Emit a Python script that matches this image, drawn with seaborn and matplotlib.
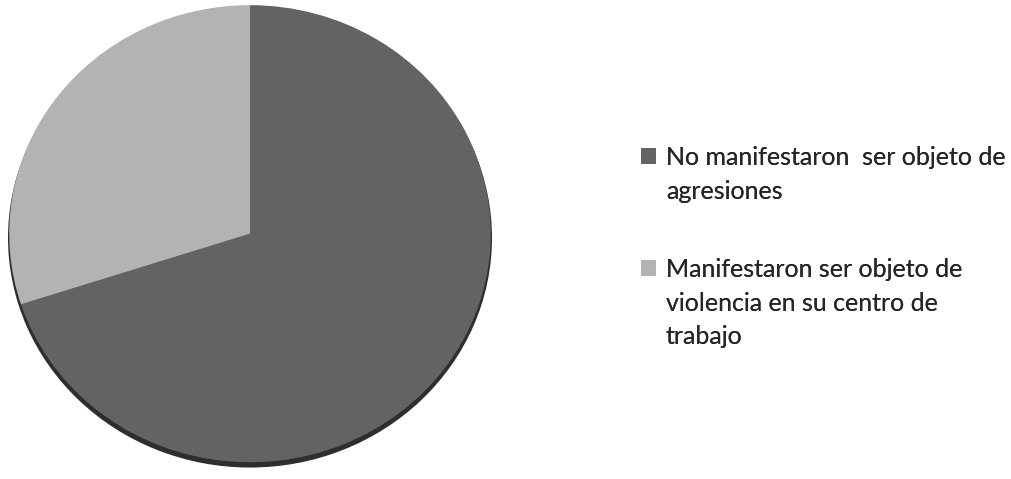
import matplotlib
matplotlib.use("Agg")
import matplotlib.pyplot as plt
import seaborn as sns
from matplotlib.patches import Patch

categories = ["No manifestaron  ser objeto de\nagresiones",
              "Manifestaron ser objeto de\nviolencia en su centro de\ntrabajo"]
values = [70, 30]
colors = ["#636363", "#b3b3b3"]

sns.set_theme(style="white")
plt.rcParams['font.family'] = ['Lato', 'DejaVu Sans']

fig = plt.figure(figsize=(10.11, 4.79), dpi=100)
W, H = 1011, 479
cx, cy, rx, ry = 250, 236, 242, 232
ax = fig.add_axes([(cx - rx) / W, 1 - (cy + ry) / H, 2 * rx / W, 2 * ry / H])
# shadow
ax.pie([1], colors=["#2e2e2e"], radius=1.0, center=(0, -0.018), frame=True,
       wedgeprops=dict(linewidth=0))
ax.pie(values, colors=colors, startangle=90, counterclock=False, radius=0.995,
       center=(0, 0.0), frame=True, wedgeprops=dict(linewidth=0))
ax.set_xlim(-1, 1)
ax.set_ylim(-1.02, 1)
ax.set_aspect('auto')
ax.axis('off')

# one legend block per category; square beside the first line only
tops = [146, 258]
for cat, col, top in zip(categories, colors, tops):
    lines = cat.split("\n")
    handles = [Patch(facecolor=col if i == 0 else 'none', edgecolor='none')
               for i in range(len(lines))]
    leg = fig.legend(handles, lines, loc='upper left',
                     bbox_to_anchor=(641 / W, 1 - top / H),
                     frameon=False, fontsize=18, handlelength=0.6, handleheight=0.6,
                     handletextpad=0.4, labelspacing=0.43, borderpad=0,
                     borderaxespad=0)
    fig.add_artist(leg)

fig.savefig("out.png", dpi=100)
